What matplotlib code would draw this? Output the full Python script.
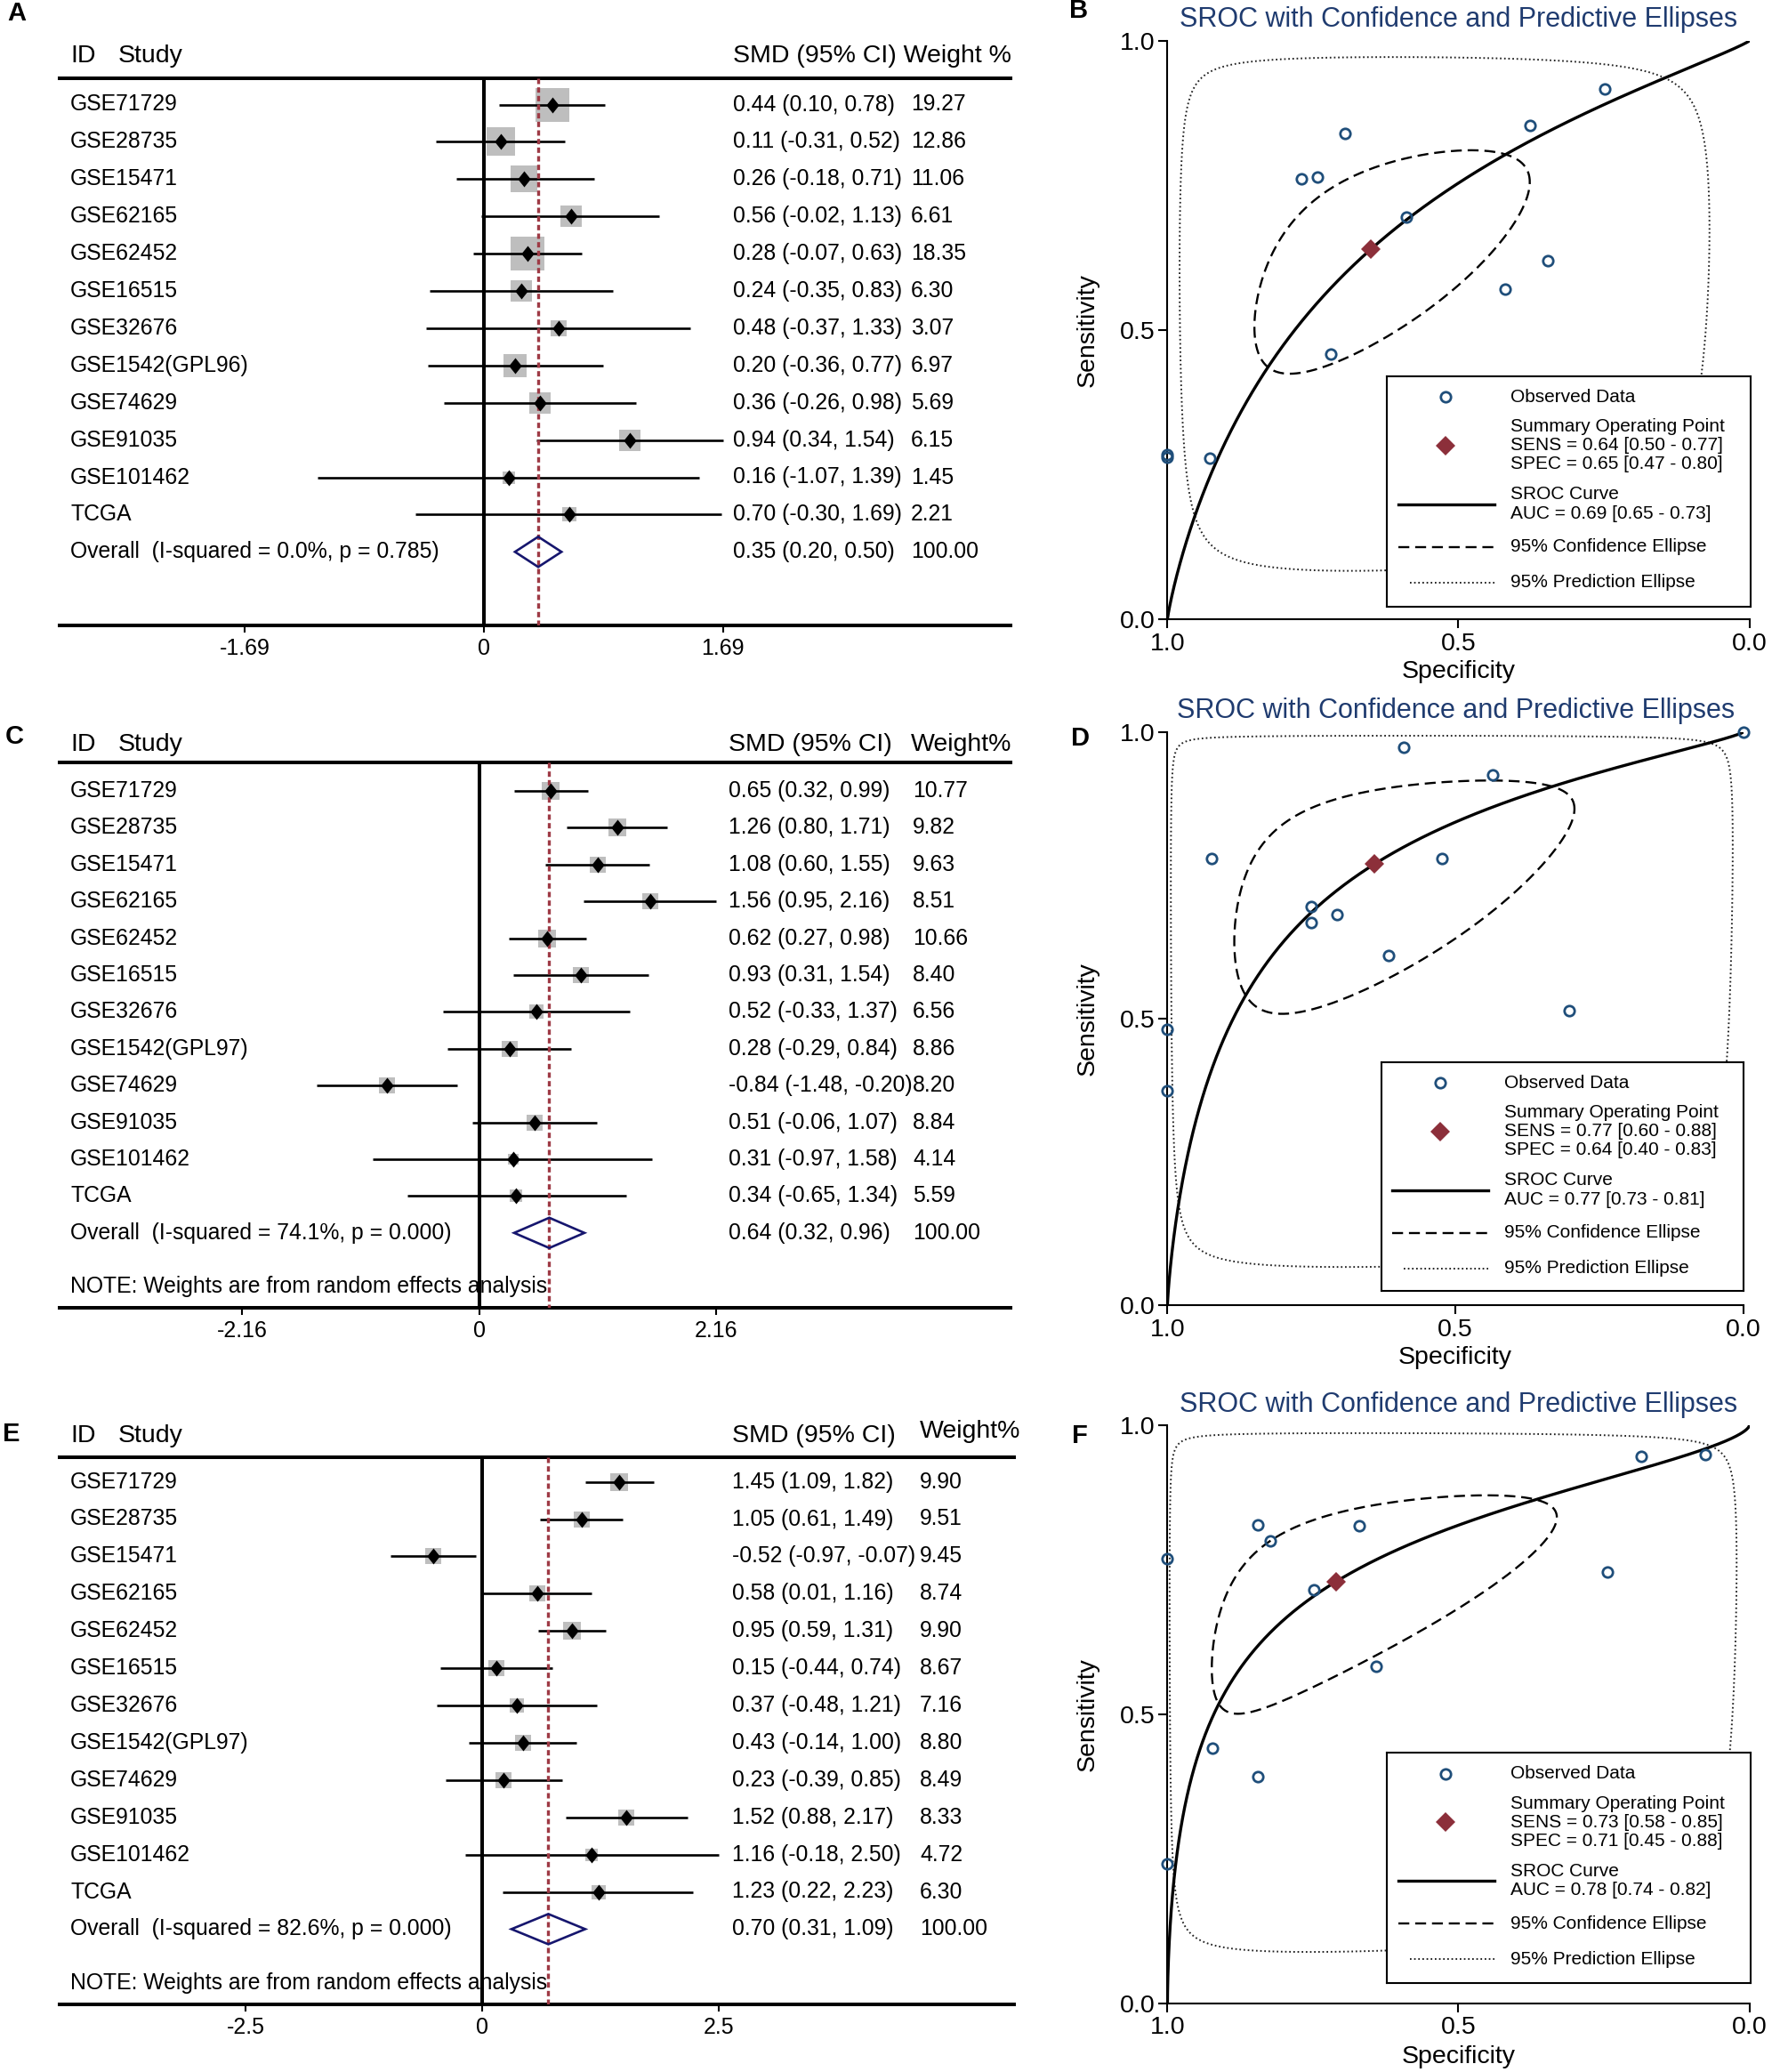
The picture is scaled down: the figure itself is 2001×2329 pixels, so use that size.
import numpy as np
import matplotlib
matplotlib.use("Agg")
import matplotlib.pyplot as plt
from matplotlib.path import Path
from matplotlib.patches import Polygon

plt.rcParams['font.family'] = ['Liberation Sans', 'DejaVu Sans']

W, H, DPI = 2001, 2329, 100
PT = 72.0 / DPI

# ---------------- forest plot data (as printed) ----------------
studies_A = ["GSE71729", "GSE28735", "GSE15471", "GSE62165", "GSE62452", "GSE16515",
             "GSE32676", "GSE1542(GPL96)", "GSE74629", "GSE91035", "GSE101462", "TCGA"]
smd_A = [0.44, 0.11, 0.26, 0.56, 0.28, 0.24, 0.48, 0.20, 0.36, 0.94, 0.16, 0.70]
lo_A = [0.10, -0.31, -0.18, -0.02, -0.07, -0.35, -0.37, -0.36, -0.26, 0.34, -1.07, -0.30]
hi_A = [0.78, 0.52, 0.71, 1.13, 0.63, 0.83, 1.33, 0.77, 0.98, 1.54, 1.39, 1.69]
wt_A = [19.27, 12.86, 11.06, 6.61, 18.35, 6.30, 3.07, 6.97, 5.69, 6.15, 1.45, 2.21]
overall_A = [0.35, 0.20, 0.50]
het_A = "Overall  (I-squared = 0.0%, p = 0.785)"
# positions as drawn in panel A (the TCGA mark is drawn left of its printed value)
drawn_smd_A = [0.44, 0.11, 0.26, 0.56, 0.28, 0.24, 0.48, 0.20, 0.36, 0.94, 0.16, 0.55]
drawn_lo_A = [0.10, -0.31, -0.18, -0.02, -0.07, -0.35, -0.37, -0.36, -0.26, 0.34, -1.07, -0.44]
drawn_hi_A = [0.78, 0.52, 0.71, 1.13, 0.63, 0.83, 1.33, 0.77, 0.98, 1.54, 1.39, 1.53]

studies_C = ["GSE71729", "GSE28735", "GSE15471", "GSE62165", "GSE62452", "GSE16515",
             "GSE32676", "GSE1542(GPL97)", "GSE74629", "GSE91035", "GSE101462", "TCGA"]
smd_C = [0.65, 1.26, 1.08, 1.56, 0.62, 0.93, 0.52, 0.28, -0.84, 0.51, 0.31, 0.34]
lo_C = [0.32, 0.80, 0.60, 0.95, 0.27, 0.31, -0.33, -0.29, -1.48, -0.06, -0.97, -0.65]
hi_C = [0.99, 1.71, 1.55, 2.16, 0.98, 1.54, 1.37, 0.84, -0.20, 1.07, 1.58, 1.34]
wt_C = [10.77, 9.82, 9.63, 8.51, 10.66, 8.40, 6.56, 8.86, 8.20, 8.84, 4.14, 5.59]
overall_C = [0.64, 0.32, 0.96]
het_C = "Overall  (I-squared = 74.1%, p = 0.000)"

studies_E = studies_C
smd_E = [1.45, 1.05, -0.52, 0.58, 0.95, 0.15, 0.37, 0.43, 0.23, 1.52, 1.16, 1.23]
lo_E = [1.09, 0.61, -0.97, 0.01, 0.59, -0.44, -0.48, -0.14, -0.39, 0.88, -0.18, 0.22]
hi_E = [1.82, 1.49, -0.07, 1.16, 1.31, 0.74, 1.21, 1.00, 0.85, 2.17, 2.50, 2.23]
wt_E = [9.90, 9.51, 9.45, 8.74, 9.90, 8.67, 7.16, 8.80, 8.49, 8.33, 4.72, 6.30]
overall_E = [0.70, 0.31, 1.09]
het_E = "Overall  (I-squared = 82.6%, p = 0.000)"
note_text = "NOTE: Weights are from random effects analysis"

# ---------------- SROC data ----------------
spec_B = [0.248, 0.377, 0.695, 0.769, 0.743, 0.590, 0.347, 0.420, 0.719, 1.0, 1.0, 0.927]
sens_B = [0.917, 0.854, 0.840, 0.762, 0.765, 0.696, 0.620, 0.571, 0.459, 0.285, 0.280, 0.278]
summary_B = [0.65, 0.64]          # spec, sens
sroc_slope_B = 0.88
conf_B = [1.12, 0.88, 0.63]       # logit-space half extents (FPR, SENS) and correlation
pred_B = [3.23, 2.97, 0.05]
leg_B = ["SENS = 0.64 [0.50 - 0.77]", "SPEC = 0.65 [0.47 - 0.80]", "AUC = 0.69 [0.65 - 0.73]"]

spec_D = [0.0, 0.590, 0.436, 0.924, 0.523, 0.750, 0.750, 0.705, 0.616, 0.303, 1.0, 1.0]
sens_D = [1.0, 0.974, 0.926, 0.780, 0.779, 0.695, 0.667, 0.682, 0.610, 0.514, 0.481, 0.374]
summary_D = [0.64, 0.77]
sroc_slope_D = 0.82
conf_D = [1.455, 1.175, 0.56]
pred_D = [4.55, 3.85, 0.05]
leg_D = ["SENS = 0.77 [0.60 - 0.88]", "SPEC = 0.64 [0.40 - 0.83]", "AUC = 0.77 [0.73 - 0.81]"]

spec_F = [0.186, 0.076, 0.845, 0.671, 0.824, 1.0, 0.244, 0.749, 0.641, 0.922, 0.845, 1.0]
sens_F = [0.946, 0.950, 0.828, 0.827, 0.800, 0.769, 0.746, 0.715, 0.584, 0.441, 0.392, 0.241]
summary_F = [0.71, 0.73]
sroc_slope_F = 0.64
conf_F = [1.6, 0.99, 0.68]
pred_F = [4.7, 3.32, 0.05]
leg_F = ["SENS = 0.73 [0.58 - 0.85]", "SPEC = 0.71 [0.45 - 0.88]", "AUC = 0.78 [0.74 - 0.82]"]

TITLE = "SROC with Confidence and Predictive Ellipses"

# ---------------- styles ----------------
GREY = '#bebebe'
RED = '#9e3a45'
NAVY = '#16166e'
BLUE = '#1f4e7a'
DRED = '#8c2f3a'
TCOL = '#1f3b6f'
DOT = '#222222'
DIAM = Path([(0, 1), (0.8, 0), (0, -1), (-0.8, 0), (0, 1)],
            [Path.MOVETO, Path.LINETO, Path.LINETO, Path.LINETO, Path.CLOSEPOLY])

fig = plt.figure(figsize=(W / DPI, H / DPI), dpi=DPI)
fig.patch.set_facecolor('white')


def px_rect(l, t, r, b):
    return [l / W, 1 - b / H, (r - l) / W, (b - t) / H]


def ftext(x, y, s, **kw):
    fig.text(x / W, 1 - y / H, s, **kw)


def logit(p):
    p = np.asarray(p, float)
    return np.log(p / (1 - p))


def expit(x):
    return 1.0 / (1.0 + np.exp(-x))


def forest(L, names, est, lo, hi, wt, overall, het, note, drawn=None):
    if drawn is None:
        drawn = (est, lo, hi)
    dest, dlo, dhi = drawn
    ax = fig.add_axes(px_rect(L['l'], L['t'], L['r'], L['b']))
    ax.set_xlim((L['l'] - L['zero']) / L['ppu'], (L['r'] - L['zero']) / L['ppu'])
    ax.set_ylim(L['b'], L['t'])
    ax.patch.set_visible(False)
    for s in ['left', 'right']:
        ax.spines[s].set_visible(False)
    for s in ['top', 'bottom']:
        ax.spines[s].set_linewidth(2.9)
    ax.set_yticks([])
    tv = max(max(abs(v) for v in lo), max(abs(v) for v in hi))
    tp = max(max(abs(v) for v in dlo), max(abs(v) for v in dhi))
    ax.set_xticks([-tp, 0, tp])
    ax.set_xticklabels(['%g' % -tv, '0', '%g' % tv])
    ax.tick_params(axis='x', direction='out', length=6, width=1.5, pad=4, labelsize=18)
    ax.plot([0, 0], [L['t'], L['b']], color='black', lw=2.9, solid_capstyle='butt', zorder=2)
    ov, olo, ohi = overall
    ax.plot([ov, ov], [L['t'], L['b']], color=RED, lw=2.4, ls=(0, (1.8, 1.1)), zorder=5)
    for i, (n, e, a, b, w, de, da, db) in enumerate(zip(names, est, lo, hi, wt, dest, dlo, dhi)):
        y = L['first'] + i * L['step']
        side = L['bc'] + L['bk'] * np.sqrt(w)
        ax.plot([de], [y], marker='s', ms=side * PT, color=GREY, mew=0, ls='none', zorder=3)
        ax.plot([da, db], [y, y], color='black', lw=1.9, solid_capstyle='butt', zorder=4)
        ax.plot([de], [y], marker=DIAM, ms=18 * PT, color='black', mew=0, ls='none', zorder=6)
        ftext(L['c_name'], y, n, va='center', ha='left', size=17.8)
        ftext(L['c_smd'], y, '%.2f (%.2f, %.2f)' % (e, a, b), va='center', ha='left', size=17.8)
        ftext(L['c_wt'], y, '%.2f' % w, va='center', ha='left', size=17.8)
    yo = L['first'] + len(names) * L['step']
    ax.add_patch(Polygon([(olo, yo), (ov, yo - 17), (ohi, yo), (ov, yo + 17)], closed=True,
                         fill=False, ec=NAVY, lw=1.9, zorder=6, joinstyle='miter'))
    ftext(L['c_name'], yo, het, va='center', ha='left', size=17.8)
    ftext(L['c_smd'], yo, '%.2f (%.2f, %.2f)' % (ov, olo, ohi), va='center', ha='left', size=17.8)
    ftext(L['c_wt'], yo, '%.2f' % 100.0, va='center', ha='left', size=17.8)
    if note:
        ftext(L['c_name'], L['note_y'], note_text, va='center', ha='left', size=17.8)
    ftext(L['c_name'], L['hdr_y'], 'ID', va='center', ha='left', size=20.5)
    ftext(L['c_study'], L['hdr_y'], 'Study', va='center', ha='left', size=20.5)
    if L['hdr_wt'] is None:
        ftext(L['c_smd'], L['hdr_y'], 'SMD (95% CI) Weight %', va='center', ha='left', size=20.5)
    else:
        ftext(L['c_smd'], L['hdr_y'], 'SMD (95% CI)', va='center', ha='left', size=20.5)
        ftext(L['hdr_wt'][0], L['hdr_wt'][1], 'Weight%', va='center', ha='left', size=20.5)
    ftext(L['lab'][0], L['lab'][1], L['lab'][2], va='center', ha='left', size=21, weight='bold')


def sroc(L, spec, sens, summ, slope, conf, pred, leg):
    ax = fig.add_axes(px_rect(L['l'], L['t'], L['r'], L['b']))
    ax.set_xlim(1, 0)
    ax.set_ylim(0, 1)
    ax.patch.set_visible(False)
    for s in ['top', 'right']:
        ax.spines[s].set_visible(False)
    for s in ['left', 'bottom']:
        ax.spines[s].set_linewidth(1.5)
    ax.set_xticks([1, 0.5, 0])
    ax.set_xticklabels(['1.0', '0.5', '0.0'])
    ax.set_yticks([0, 0.5, 1])
    ax.set_yticklabels(['0.0', '0.5', '1.0'])
    ax.tick_params(direction='out', length=7, width=1.5, labelsize=20.5)
    ax.tick_params(axis='x', pad=3.5)
    ax.tick_params(axis='y', pad=3)
    u0 = logit(1 - summ[0])
    v0 = logit(summ[1])
    t = np.linspace(0, 2 * np.pi, 1441)

    def ell(su, sv, rho):
        u = u0 + su * np.cos(t)
        v = v0 + sv * (rho * np.cos(t) + np.sqrt(1 - rho ** 2) * np.sin(t))
        return 1 - expit(u), expit(v)

    x, y = ell(*pred)
    ax.plot(x, y, color=DOT, lw=1.4, ls=(0, (0.9, 1.5)))
    x, y = ell(*conf)
    ax.plot(x, y, color='black', lw=1.7, ls=(0, (5.2, 2.8)))
    uu = np.linspace(-16, 16, 3000)
    vv = v0 + slope * (uu - u0)
    ax.plot(1 - expit(uu), expit(vv), color='black', lw=2.4)
    ax.plot(spec, sens, ls='none', marker='o', mfc='none', mec=BLUE, ms=8.2, mew=2.0,
            clip_on=False, zorder=5)
    ax.plot([summ[0]], [summ[1]], ls='none', marker='D', color=DRED, ms=11.5, mew=0, zorder=6)

    cx = (L['l'] + L['r']) / 2
    ftext(cx, L['title_y'], TITLE, ha='center', va='center', size=22, color=TCOL)
    ftext(1223, (L['t'] + L['b']) / 2, 'Sensitivity', rotation=90, ha='center', va='center', size=20.5)
    ftext(cx, L['xlab_y'], 'Specificity', ha='center', va='center', size=20.5)
    ftext(L['lab'][0], L['lab'][1], L['lab'][2], va='center', ha='center', size=21, weight='bold')

    lx0, ly0, lx1, ly1 = L['leg']
    lax = fig.add_axes(px_rect(lx0, ly0, lx1, ly1))
    lax.set_xlim(0, lx1 - lx0)
    lax.set_ylim(ly1 - ly0, 0)
    lax.set_xticks([])
    lax.set_yticks([])
    lax.set_facecolor('white')
    for s in lax.spines.values():
        s.set_linewidth(1.5)
    fs = 15
    tx = 138.5
    lax.plot([66], [23.5], ls='none', marker='o', mfc='none', mec=BLUE, ms=8.2, mew=2.0)
    lax.text(tx, 23.5, 'Observed Data', va='center', size=fs)
    lax.plot([66], [78], ls='none', marker='D', color=DRED, ms=11.5, mew=0)
    lax.text(tx, 57, 'Summary Operating Point', va='center', size=fs)
    lax.text(tx, 78, leg[0], va='center', size=fs)
    lax.text(tx, 99, leg[1], va='center', size=fs)
    lax.plot([12.8, 120.6], [144, 144], color='black', lw=2.4)
    lax.text(tx, 133, 'SROC Curve', va='center', size=fs)
    lax.text(tx, 154.6, leg[2], va='center', size=fs)
    lax.plot([12.8, 120.6], [192, 192], color='black', lw=1.7, ls=(0, (5.2, 2.8)))
    lax.text(tx, 192, '95% Confidence Ellipse', va='center', size=fs)
    lax.plot([25.5, 120.6], [232, 232], color=DOT, lw=1.4, ls=(0, (0.9, 1.5)))
    lax.text(tx, 232, '95% Prediction Ellipse', va='center', size=fs)


LA = dict(l=66.5, r=1136, t=88, b=703, zero=544, ppu=174.4, first=117.5, step=41.9,
          bc=6.0, bk=7.3, c_name=79, c_study=133, c_smd=824, c_wt=1024,
          hdr_y=63, hdr_wt=None, note_y=None, lab=(8, 15, 'A'))
LC = dict(l=66.6, r=1136, t=856.7, b=1470, zero=538.5, ppu=123.4, first=889, step=41.4,
          bc=0.0, bk=6.1, c_name=79, c_study=133, c_smd=819, c_wt=1026,
          hdr_y=836.5, hdr_wt=(1024, 836.5), note_y=1446, lab=(6, 828, 'C'))
LE = dict(l=66.6, r=1140, t=1637.6, b=2253, zero=542, ppu=106.3, first=1665.6, step=41.9,
          bc=0.0, bk=6.1, c_name=79, c_study=133, c_smd=823, c_wt=1034,
          hdr_y=1614, hdr_wt=(1034, 1609), note_y=2229, lab=(3, 1612, 'E'))

forest(LA, studies_A, smd_A, lo_A, hi_A, wt_A, overall_A, het_A, False,
       drawn=(drawn_smd_A, drawn_lo_A, drawn_hi_A))
forest(LC, studies_C, smd_C, lo_C, hi_C, wt_C, overall_C, het_C, True)
forest(LE, studies_E, smd_E, lo_E, hi_E, wt_E, overall_E, het_E, True)

LB = dict(l=1312.4, r=1966.5, t=45.9, b=696, title_y=22.4, xlab_y=755,
          lab=(1213, 12.5, 'B'), leg=(1559, 422.7, 1968, 681.5))
LD = dict(l=1312.4, r=1959.8, t=822.9, b=1467, title_y=799, xlab_y=1526,
          lab=(1214, 830, 'D'), leg=(1552.6, 1193.8, 1959.8, 1450.5))
LF = dict(l=1312.4, r=1966.5, t=1602.3, b=2251.9, title_y=1578.7, xlab_y=2311.8,
          lab=(1214, 1614, 'F'), leg=(1559, 1970.3, 1968, 2229.3))

sroc(LB, spec_B, sens_B, summary_B, sroc_slope_B, conf_B, pred_B, leg_B)
sroc(LD, spec_D, sens_D, summary_D, sroc_slope_D, conf_D, pred_D, leg_D)
sroc(LF, spec_F, sens_F, summary_F, sroc_slope_F, conf_F, pred_F, leg_F)

fig.savefig('out.png', dpi=DPI)
